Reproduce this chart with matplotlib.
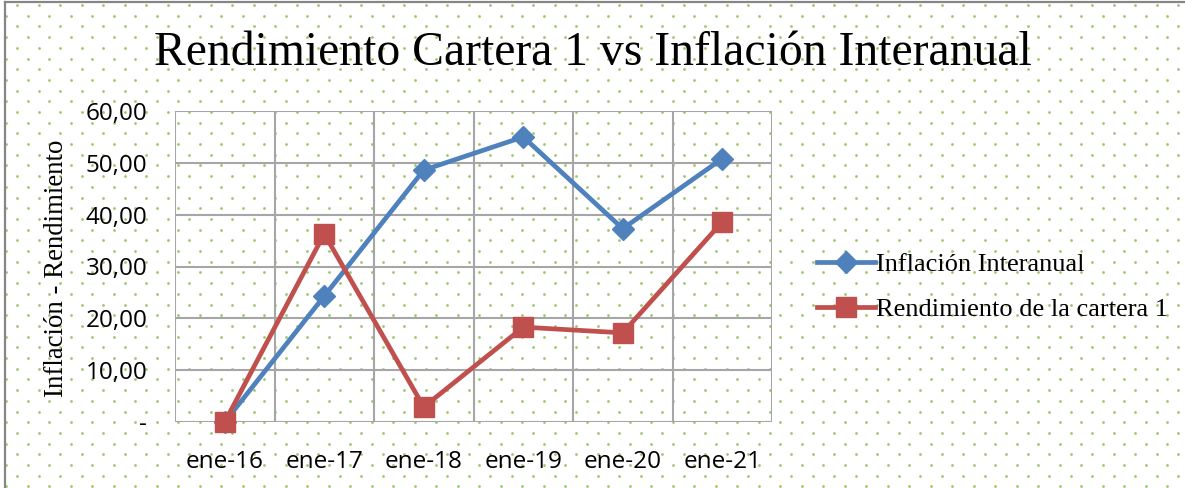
import numpy as np
import matplotlib
matplotlib.use("Agg")
import matplotlib.pyplot as plt
from matplotlib.lines import Line2D

categories = ["ene-16", "ene-17", "ene-18", "ene-19", "ene-20", "ene-21"]
inflacion = [0.0, 24.3, 48.6, 55.0, 37.3, 50.8]
rendimiento = [0.0, 36.3, 2.9, 18.3, 17.2, 38.6]
yticks = [0, 10, 20, 30, 40, 50, 60]
ytick_labels = ["-", "10,00", "20,00", "30,00", "40,00", "50,00", "60,00"]

W, H = 1185, 488
fig = plt.figure(figsize=(W / 100, H / 100), dpi=100)
fig.patch.set_facecolor("white")

# dotted background pattern (figure-level, in pixel coords)
bg = fig.add_axes([0, 0, 1, 1], zorder=0)
bg.set_xlim(0, W)
bg.set_ylim(H, 0)
bg.axis("off")
xs, ys = [], []
dx, dy = 21.5, 10.7
row = 0
y = 5.0
while y < H + 5:
    x0 = 17.0 if row % 2 == 0 else 17.0 + dx / 2
    for x in np.arange(x0 - dx, W + dx, dx):
        xs.append(x)
        ys.append(y)
    y += dy
    row += 1
bg.scatter(xs, ys, s=4.0, color="#94C060", linewidths=0, alpha=0.9)
# chart border (left and top)
bg.plot([5, 5], [H, 1.5], color="#868686", lw=1.6)
bg.plot([5, W], [1.5, 1.5], color="#868686", lw=1.6)

# plot area: x 175-772, y 111-422
left, right, top, bottom = 175, 772, 111, 422
ax = fig.add_axes([left / W, 1 - bottom / H, (right - left) / W, (bottom - top) / H], zorder=2)
ax.patch.set_alpha(0)
xpos = np.arange(len(categories))
ax.set_xlim(-0.5, len(categories) - 0.5)
ax.set_ylim(0, 60)
ax.set_yticks(yticks)
ax.set_yticklabels(ytick_labels, fontsize=17.5, family="Open Sans")
ax.set_xticks(xpos)
ax.set_xticklabels(categories, fontsize=17.5, family="Open Sans")
ax.tick_params(length=0)
ax.tick_params(axis="y", pad=20)
ax.tick_params(axis="x", pad=20)
# vertical grid at category boundaries, horizontal at ticks
for b in np.arange(-0.5, len(categories) + 0.5, 1):
    ax.axvline(b, color="#A6A6A6", lw=1.5, zorder=1)
for t in yticks:
    ax.axhline(t, color="#A6A6A6", lw=1.5, zorder=1)
for s in ax.spines.values():
    s.set_visible(False)

blue = "#4F81BD"
red = "#C0504D"
ax.plot(xpos, inflacion, color=blue, lw=3.4, marker="D", markersize=11.5,
        markeredgecolor=blue, label="Inflación Interanual", zorder=3, clip_on=False)
ax.plot(xpos, rendimiento, color=red, lw=3.4, marker="s", markersize=14,
        markeredgecolor=red, label="Rendimiento de la cartera 1", zorder=4, clip_on=False)

fig.text(57 / W, 1 - 268 / H, "Inflación - Rendimiento", rotation=90,
         ha="center", va="center", fontsize=19.3, family="Liberation Serif")

fig.text(593 / W, 1 - 53 / H, "Rendimiento Cartera 1 vs Inflación Interanual",
         ha="center", va="center", fontsize=34.3, family="Liberation Serif")

handles = [Line2D([0], [0], color=blue, lw=3.4, marker="D", markersize=11.5),
           Line2D([0], [0], color=red, lw=3.4, marker="s", markersize=14)]
leg = fig.legend(handles, ["Inflación Interanual", "Rendimiento de la cartera 1"],
                 loc="center left", bbox_to_anchor=(806 / W, 1 - 287 / H),
                 frameon=False, prop={"family": "Liberation Serif", "size": 19},
                 handlelength=2.2, handletextpad=0.05, labelspacing=0.8, borderaxespad=0)

fig.savefig("out.png", dpi=100)
